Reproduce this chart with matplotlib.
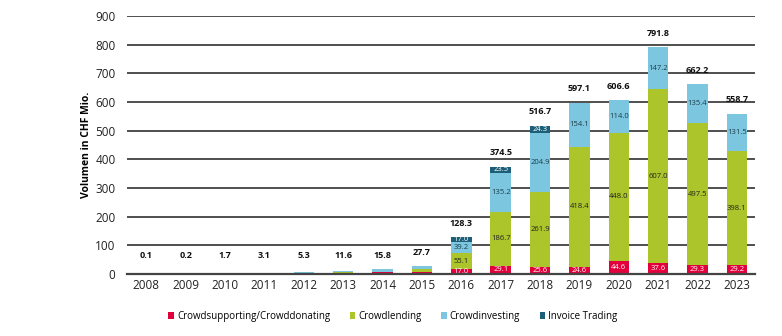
import matplotlib.pyplot as plt
import numpy as np

years = ['2008', '2009', '2010', '2011', '2012', '2013', '2014', '2015',
         '2016', '2017', '2018', '2019', '2020', '2021', '2022', '2023']
totals = [0.1, 0.2, 1.7, 3.1, 5.3, 11.6, 15.8, 27.7,
          128.3, 374.5, 516.7, 597.1, 606.6, 791.8, 662.2, 558.7]
supporting = [0.1, 0.2, 0.8, 1.0, 1.5, 3.0, 5.0, 8.0,
              17.0, 29.1, 25.6, 24.6, 44.6, 37.6, 29.3, 29.2]
lending = [0.0, 0.0, 0.0, 0.0, 0.5, 3.0, 3.0, 9.0,
           55.1, 186.7, 261.9, 418.4, 448.0, 607.0, 497.5, 398.1]
investing = [0.0, 0.0, 0.9, 2.1, 3.3, 5.6, 7.8, 10.7,
             39.2, 135.2, 204.9, 154.1, 114.0, 147.2, 135.4, 131.5]
invoice = [0, 0, 0, 0, 0, 0, 0, 0,
           17.0, 23.5, 24.3, 0, 0, 0, 0, 0]

series = [
    ('Crowdsupporting/Crowddonating', supporting, '#e2003c', 'white'),
    ('Crowdlending', lending, '#abc52a', '#222222'),
    ('Crowdinvesting', investing, '#7cc6df', '#1d3d4a'),
    ('Invoice Trading', invoice, '#1c5f78', 'white'),
]

plt.rcParams['font.family'] = ['Open Sans', 'DejaVu Sans']

fig = plt.figure(figsize=(7.82, 3.36), dpi=100)
ax = fig.add_axes([0.162, 0.185, 0.803, 0.767])

x = np.arange(len(years))
width = 0.52
bottom = np.zeros(len(years))
for name, vals, color, tcolor in series:
    vals = np.array(vals, dtype=float)
    ax.bar(x, vals, width, bottom=bottom, color=color, label=name, zorder=3)
    for i, v in enumerate(vals):
        if v >= 14:
            ax.text(x[i], bottom[i] + v / 2, f'{v:.1f}', ha='center', va='center',
                    fontsize=5.5, color=tcolor, zorder=4)
    bottom += vals

for i, t in enumerate(totals):
    ax.annotate(f'{t:.1f}', (x[i], max(t, 15)), xytext=(0, 10),
                textcoords='offset points', ha='center', va='center',
                fontsize=6.5, fontweight='bold', color='#111111')

ax.set_ylim(0, 900)
ax.set_xlim(-0.5, 15.45)
ax.set_yticks(range(0, 901, 100))
ax.set_xticks(x)
ax.set_xticklabels(years)
ax.tick_params(length=0, labelsize=8.5, colors='#222222')
ax.tick_params(axis='y', pad=8)
ax.yaxis.grid(True, color='#1f1f1f', linewidth=1.1, zorder=0)
ax.set_axisbelow(True)
for s in ['top', 'right', 'left']:
    ax.spines[s].set_visible(False)
ax.spines['bottom'].set_color('#444444')
ax.spines['bottom'].set_linewidth(1.6)
ax.spines['bottom'].set_zorder(5)
ax.set_ylabel('Volumen in CHF Mio.', fontsize=7.5, fontweight='bold', labelpad=2)

ax.legend(loc='upper center', bbox_to_anchor=(0.424, -0.11), ncol=4, frameon=False,
          fontsize=7, handlelength=0.6, handleheight=0.6, handletextpad=0.3,
          columnspacing=2.0)

plt.savefig('out.png', dpi=100)
